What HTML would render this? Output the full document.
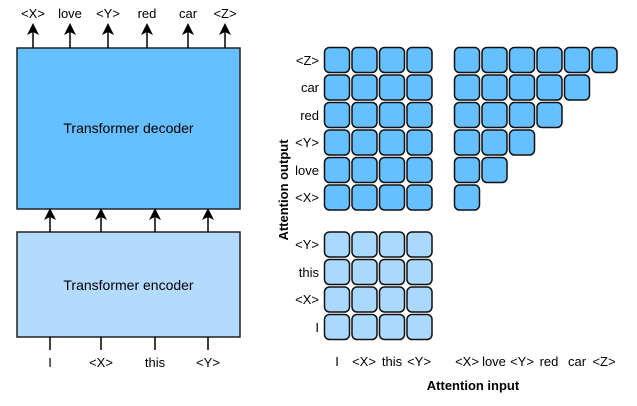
<!DOCTYPE html>
<html><head><meta charset="utf-8"><style>
html,body{margin:0;padding:0;background:#fff}
</style></head><body>
<svg width="637" height="401" viewBox="0 0 637 401" xmlns="http://www.w3.org/2000/svg" font-family="Liberation Sans, sans-serif" font-size="13">
<defs><marker id="a" markerWidth="8" markerHeight="8" refX="4" refY="4" orient="auto"><path d="M0,0 L8,4 L0,8 L2,4 Z" fill="#000"/></marker></defs>
<rect x="17" y="48" width="223" height="161" fill="#66bfff" stroke="#222" stroke-width="1.5"/>
<text x="128.5" y="133" text-anchor="middle" font-size="14">Transformer decoder</text>
<rect x="17" y="232" width="223" height="105" fill="#b3dbff" stroke="#222" stroke-width="1.5"/>
<text x="128.5" y="290" text-anchor="middle" font-size="14">Transformer encoder</text>
<g stroke="#000" stroke-width="1.5">
<line x1="33" y1="48" x2="33" y2="29" marker-end="url(#a)"/>
<line x1="70" y1="48" x2="70" y2="29" marker-end="url(#a)"/>
<line x1="108" y1="48" x2="108" y2="29" marker-end="url(#a)"/>
<line x1="147" y1="48" x2="147" y2="29" marker-end="url(#a)"/>
<line x1="188" y1="48" x2="188" y2="29" marker-end="url(#a)"/>
<line x1="225" y1="48" x2="225" y2="29" marker-end="url(#a)"/>
<line x1="50" y1="232" x2="50" y2="214" marker-end="url(#a)"/>
<line x1="101" y1="232" x2="101" y2="214" marker-end="url(#a)"/>
<line x1="155" y1="232" x2="155" y2="214" marker-end="url(#a)"/>
<line x1="208" y1="232" x2="208" y2="214" marker-end="url(#a)"/>
<line x1="50" y1="337" x2="50" y2="350"/>
<line x1="101" y1="337" x2="101" y2="350"/>
<line x1="155" y1="337" x2="155" y2="350"/>
<line x1="208" y1="337" x2="208" y2="350"/>
</g>
<g text-anchor="middle">
<text x="33" y="18">&lt;X&gt;</text><text x="70" y="18">love</text><text x="108" y="18">&lt;Y&gt;</text>
<text x="147" y="18">red</text><text x="188" y="18">car</text><text x="225" y="18">&lt;Z&gt;</text>
<text x="50" y="367">I</text><text x="101" y="367">&lt;X&gt;</text><text x="155" y="367">this</text><text x="208" y="367">&lt;Y&gt;</text>
</g>
<g id="cells" stroke="#111" stroke-width="1.5">
</g>
<g text-anchor="end">
<text x="319" y="65">&lt;Z&gt;</text><text x="319" y="92">car</text><text x="319" y="120">red</text>
<text x="319" y="147">&lt;Y&gt;</text><text x="319" y="175">love</text><text x="319" y="202">&lt;X&gt;</text>
<text x="319" y="249">&lt;Y&gt;</text><text x="319" y="277">this</text><text x="319" y="304">&lt;X&gt;</text><text x="319" y="332">I</text>
</g>
<text x="0" y="0" font-weight="bold" text-anchor="middle" transform="translate(288,190) rotate(-90)">Attention output</text>
<text x="473" y="390" font-weight="bold" text-anchor="middle">Attention input</text>
<g text-anchor="middle">
<text x="337" y="366">I</text><text x="364" y="366">&lt;X&gt;</text><text x="392" y="366">this</text><text x="419" y="366">&lt;Y&gt;</text>
<text x="467" y="366">&lt;X&gt;</text><text x="494" y="366">love</text><text x="522" y="366">&lt;Y&gt;</text><text x="549" y="366">red</text><text x="577" y="366">car</text><text x="604" y="366">&lt;Z&gt;</text>
</g>
<g stroke="#111" stroke-width="1.5">
<!-- top-left 4x6 -->
<g fill="#66bfff">
<rect x="324.5" y="47.5" width="25" height="25" rx="5"/><rect x="352" y="47.5" width="25" height="25" rx="5"/><rect x="379.5" y="47.5" width="25" height="25" rx="5"/><rect x="407" y="47.5" width="25" height="25" rx="5"/>
<rect x="324.5" y="75" width="25" height="25" rx="5"/><rect x="352" y="75" width="25" height="25" rx="5"/><rect x="379.5" y="75" width="25" height="25" rx="5"/><rect x="407" y="75" width="25" height="25" rx="5"/>
<rect x="324.5" y="102.5" width="25" height="25" rx="5"/><rect x="352" y="102.5" width="25" height="25" rx="5"/><rect x="379.5" y="102.5" width="25" height="25" rx="5"/><rect x="407" y="102.5" width="25" height="25" rx="5"/>
<rect x="324.5" y="130" width="25" height="25" rx="5"/><rect x="352" y="130" width="25" height="25" rx="5"/><rect x="379.5" y="130" width="25" height="25" rx="5"/><rect x="407" y="130" width="25" height="25" rx="5"/>
<rect x="324.5" y="157.5" width="25" height="25" rx="5"/><rect x="352" y="157.5" width="25" height="25" rx="5"/><rect x="379.5" y="157.5" width="25" height="25" rx="5"/><rect x="407" y="157.5" width="25" height="25" rx="5"/>
<rect x="324.5" y="185" width="25" height="25" rx="5"/><rect x="352" y="185" width="25" height="25" rx="5"/><rect x="379.5" y="185" width="25" height="25" rx="5"/><rect x="407" y="185" width="25" height="25" rx="5"/>
<!-- triangle -->
<rect x="454.5" y="47.5" width="25" height="25" rx="5"/><rect x="482" y="47.5" width="25" height="25" rx="5"/><rect x="509.5" y="47.5" width="25" height="25" rx="5"/><rect x="537" y="47.5" width="25" height="25" rx="5"/><rect x="564.5" y="47.5" width="25" height="25" rx="5"/><rect x="592" y="47.5" width="25" height="25" rx="5"/>
<rect x="454.5" y="75" width="25" height="25" rx="5"/><rect x="482" y="75" width="25" height="25" rx="5"/><rect x="509.5" y="75" width="25" height="25" rx="5"/><rect x="537" y="75" width="25" height="25" rx="5"/><rect x="564.5" y="75" width="25" height="25" rx="5"/>
<rect x="454.5" y="102.5" width="25" height="25" rx="5"/><rect x="482" y="102.5" width="25" height="25" rx="5"/><rect x="509.5" y="102.5" width="25" height="25" rx="5"/><rect x="537" y="102.5" width="25" height="25" rx="5"/>
<rect x="454.5" y="130" width="25" height="25" rx="5"/><rect x="482" y="130" width="25" height="25" rx="5"/><rect x="509.5" y="130" width="25" height="25" rx="5"/>
<rect x="454.5" y="157.5" width="25" height="25" rx="5"/><rect x="482" y="157.5" width="25" height="25" rx="5"/>
<rect x="454.5" y="185" width="25" height="25" rx="5"/>
</g>
<g fill="#aad8ff">
<rect x="324.5" y="232" width="25" height="25" rx="5"/><rect x="352" y="232" width="25" height="25" rx="5"/><rect x="379.5" y="232" width="25" height="25" rx="5"/><rect x="407" y="232" width="25" height="25" rx="5"/>
<rect x="324.5" y="259.5" width="25" height="25" rx="5"/><rect x="352" y="259.5" width="25" height="25" rx="5"/><rect x="379.5" y="259.5" width="25" height="25" rx="5"/><rect x="407" y="259.5" width="25" height="25" rx="5"/>
<rect x="324.5" y="287" width="25" height="25" rx="5"/><rect x="352" y="287" width="25" height="25" rx="5"/><rect x="379.5" y="287" width="25" height="25" rx="5"/><rect x="407" y="287" width="25" height="25" rx="5"/>
<rect x="324.5" y="314.5" width="25" height="25" rx="5"/><rect x="352" y="314.5" width="25" height="25" rx="5"/><rect x="379.5" y="314.5" width="25" height="25" rx="5"/><rect x="407" y="314.5" width="25" height="25" rx="5"/>
</g>
</g>
</svg>
</body></html>
